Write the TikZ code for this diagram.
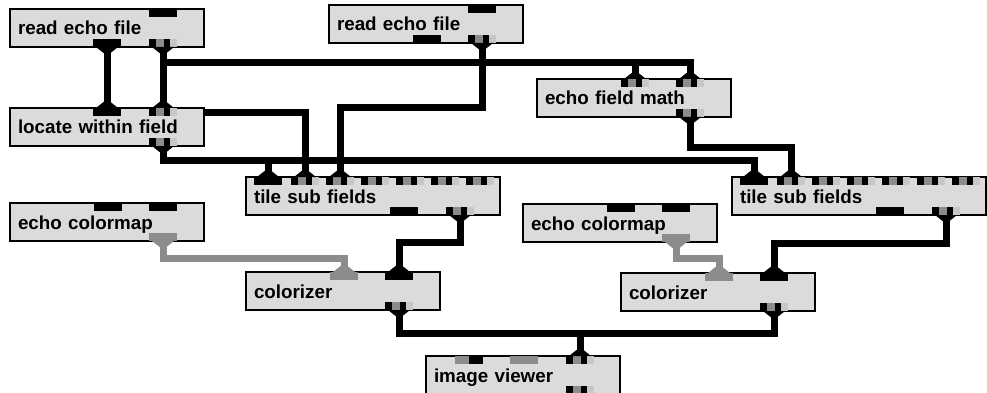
\documentclass[tikz,border=0pt]{standalone}
\usepackage{fontspec}
\setmainfont{Liberation Sans}
\usetikzlibrary{positioning, calc}
\pgfdeclarelayer{wires}
\pgfsetlayers{wires,main}

\begin{document}
\begin{tikzpicture}[
		x=1pt, y=-1pt,
		module/.style={rectangle, draw, line width=1.3pt, fill=black!14, outer sep=0pt, anchor=north west, minimum height=38pt, text width=178pt, inner xsep=8pt, text height=17pt, text depth=3pt, align=left, font=\fontsize{18.8}{21}\selectfont\bfseries},
		port/.style={rectangle, inner sep=0pt, outer sep=0pt, minimum width=28pt, minimum height=8pt},
		blk/.style={port, fill=black},
		chk/.style={port, fill=black, path picture={
				\fill[black!45] ([xshift=7pt]path picture bounding box.south west) rectangle ([xshift=15pt]path picture bounding box.north west);
				\fill[black!22] ([xshift=-7pt]path picture bounding box.south east) rectangle (path picture bounding box.north east);}},
		gry/.style={port, fill=black!45},
		gryblk/.style={port, fill=black, path picture={
				\fill[black!45] (path picture bounding box.south west) rectangle (path picture bounding box.north);}},
		wire/.style={line width=7pt, draw=black},
		gwire/.style={wire, draw=black!45}
	]
	\useasboundingbox (0,0) rectangle (987,393);

	% modules
	\node[module] (rdA) at (10,9) {read echo file};
	\node[module] (rdB) at (329,5) {read echo file};
	\node[module, below=61pt of rdA] (loc) {locate within field};
	\node[module] (efm) at (537,79) {echo field math};
	\node[module, text width=238pt] (tileA) at (246,177) {tile sub fields};
	\node[module, text width=238pt] (tileB) at (732,177) {tile sub fields};
	\node[module, below=57pt of loc] (cmA) {echo colormap};
	\node[module] (cmB) at (523,204) {echo colormap};
	\node[module] (czA) at (246,272) {colorizer};
	\node[module] (czB) at (621,273) {colorizer};
	\node[module] (iv) at (426,356) {image viewer};

	% ports
	\node[blk, anchor=north west] (rdA-t1) at ([xshift=139pt]rdA.north west) {};
	\node[blk, anchor=south west] (rdA-b1) at ([xshift=83pt]rdA.south west) {};
	\node[chk, anchor=south west] (rdA-b2) at ([xshift=139pt]rdA.south west) {};

	\node[blk, anchor=north west] (rdB-t1) at ([xshift=139pt]rdB.north west) {};
	\node[blk, anchor=south west] (rdB-b1) at ([xshift=84pt]rdB.south west) {};
	\node[chk, anchor=south west] (rdB-b2) at ([xshift=139pt]rdB.south west) {};

	\node[blk, anchor=north west] (loc-t1) at ([xshift=83pt]loc.north west) {};
	\node[chk, anchor=north west] (loc-t2) at ([xshift=139pt]loc.north west) {};
	\node[chk, anchor=south west] (loc-b1) at ([xshift=139pt]loc.south west) {};

	\node[chk, anchor=north west] (efm-t1) at ([xshift=84pt]efm.north west) {};
	\node[chk, anchor=north west] (efm-t2) at ([xshift=139pt]efm.north west) {};
	\node[chk, anchor=south west] (efm-b1) at ([xshift=139pt]efm.south west) {};

	\foreach \t in {tileA, tileB} {
		\node[blk, anchor=north west] (\t-t1) at ([xshift=8pt]\t.north west) {};
		\foreach \k in {2,...,7}
			\node[chk, anchor=north west] (\t-t\k) at ([xshift=(35*\k-25)*1pt]\t.north west) {};
		\node[blk, anchor=south west] (\t-b1) at ([xshift=144pt]\t.south west) {};
		\node[chk, anchor=south west] (\t-b2) at ([xshift=200pt]\t.south west) {};
	}

	\foreach \c in {cmA, cmB} {
		\node[blk, anchor=north west] (\c-t1) at ([xshift=84pt]\c.north west) {};
		\node[blk, anchor=north west] (\c-t2) at ([xshift=139pt]\c.north west) {};
		\node[gry, anchor=south west] (\c-b1) at ([xshift=139pt]\c.south west) {};
	}

	\foreach \c in {czA, czB} {
		\node[gry, anchor=north west] (\c-t1) at ([xshift=84pt]\c.north west) {};
		\node[blk, anchor=north west] (\c-t2) at ([xshift=139pt]\c.north west) {};
		\node[chk, anchor=south west] (\c-b1) at ([xshift=139pt]\c.south west) {};
	}

	\node[gryblk, anchor=north west] (iv-t1) at ([xshift=29pt]iv.north west) {};
	\node[gry, anchor=north west] (iv-t2) at ([xshift=84pt]iv.north west) {};
	\node[chk, anchor=north west] (iv-t3) at ([xshift=140pt]iv.north west) {};
	\node[chk, anchor=south west] (iv-b1) at ([xshift=140pt]iv.south west) {};

	% wires (behind the modules)
	\begin{pgfonlayer}{wires}
		\draw[wire] (rdA-b1.south) -- (loc-t1.north);
		\draw[wire] (rdA-b2.south) -- (loc-t2.north);
		\draw[wire] (rdA-b2.south) -- ++(0,16) -| (efm-t2.north);
		\draw[wire] (efm-t1.north) -- ++(0,-16);
		\draw[wire] (rdA-b2.south) -- ++(0,66) -| (tileA-t2.north);
		\draw[wire] (rdB-b2.south) -- ++(0,65) -| (tileA-t3.north);
		\draw[wire] (loc-b1.south) -- ++(0,14) -| (tileB-t1.north);
		\draw[wire] (tileA-t1.north) -- ++(0,-17);
		\draw[wire] (efm-b1.south) -- ++(0,30) -| (tileB-t2.north);
		\draw[wire] (tileA-b2.south) -- ++(0,27) -| (czA-t2.north);
		\draw[wire] (tileB-b2.south) -- ++(0,28) -| (czB-t2.north);
		\draw[wire] (czA-b1.south) -- ++(0,23) -| (czB-b1.south);
		\draw[wire] (iv-t3.north) -- ++(0,-23);
		\draw[gwire] (cmA-b1.south) -- ++(0,17) -| (czA-t1.north);
		\draw[gwire] (cmB-b1.south) -- ++(0,16) -| (czB-t1.north);
	\end{pgfonlayer}

	% flares where wires meet ports
	\foreach \p in {rdA-b1, rdA-b2, rdB-b2, loc-b1, efm-b1, tileA-b2, tileB-b2, czA-b1, czB-b1}
		\fill ($(\p.south)+(-11,0)$) -- ++(22,0) -- ++(-7.5,6) -- ++(-7,0) -- cycle;
	\foreach \p in {loc-t1, loc-t2, efm-t1, efm-t2, tileA-t1, tileA-t2, tileA-t3, tileB-t1, tileB-t2, czA-t2, czB-t2, iv-t3}
		\fill ($(\p.north)+(-11,0)$) -- ++(22,0) -- ++(-7.5,-6) -- ++(-7,0) -- cycle;
	\foreach \p in {cmA-b1, cmB-b1}
		\fill[black!45] ($(\p.south)+(-11,0)$) -- ++(22,0) -- ++(-7.5,6) -- ++(-7,0) -- cycle;
	\foreach \p in {czA-t1, czB-t1}
		\fill[black!45] ($(\p.north)+(-11,0)$) -- ++(22,0) -- ++(-7.5,-6) -- ++(-7,0) -- cycle;

\end{tikzpicture}
\end{document}
